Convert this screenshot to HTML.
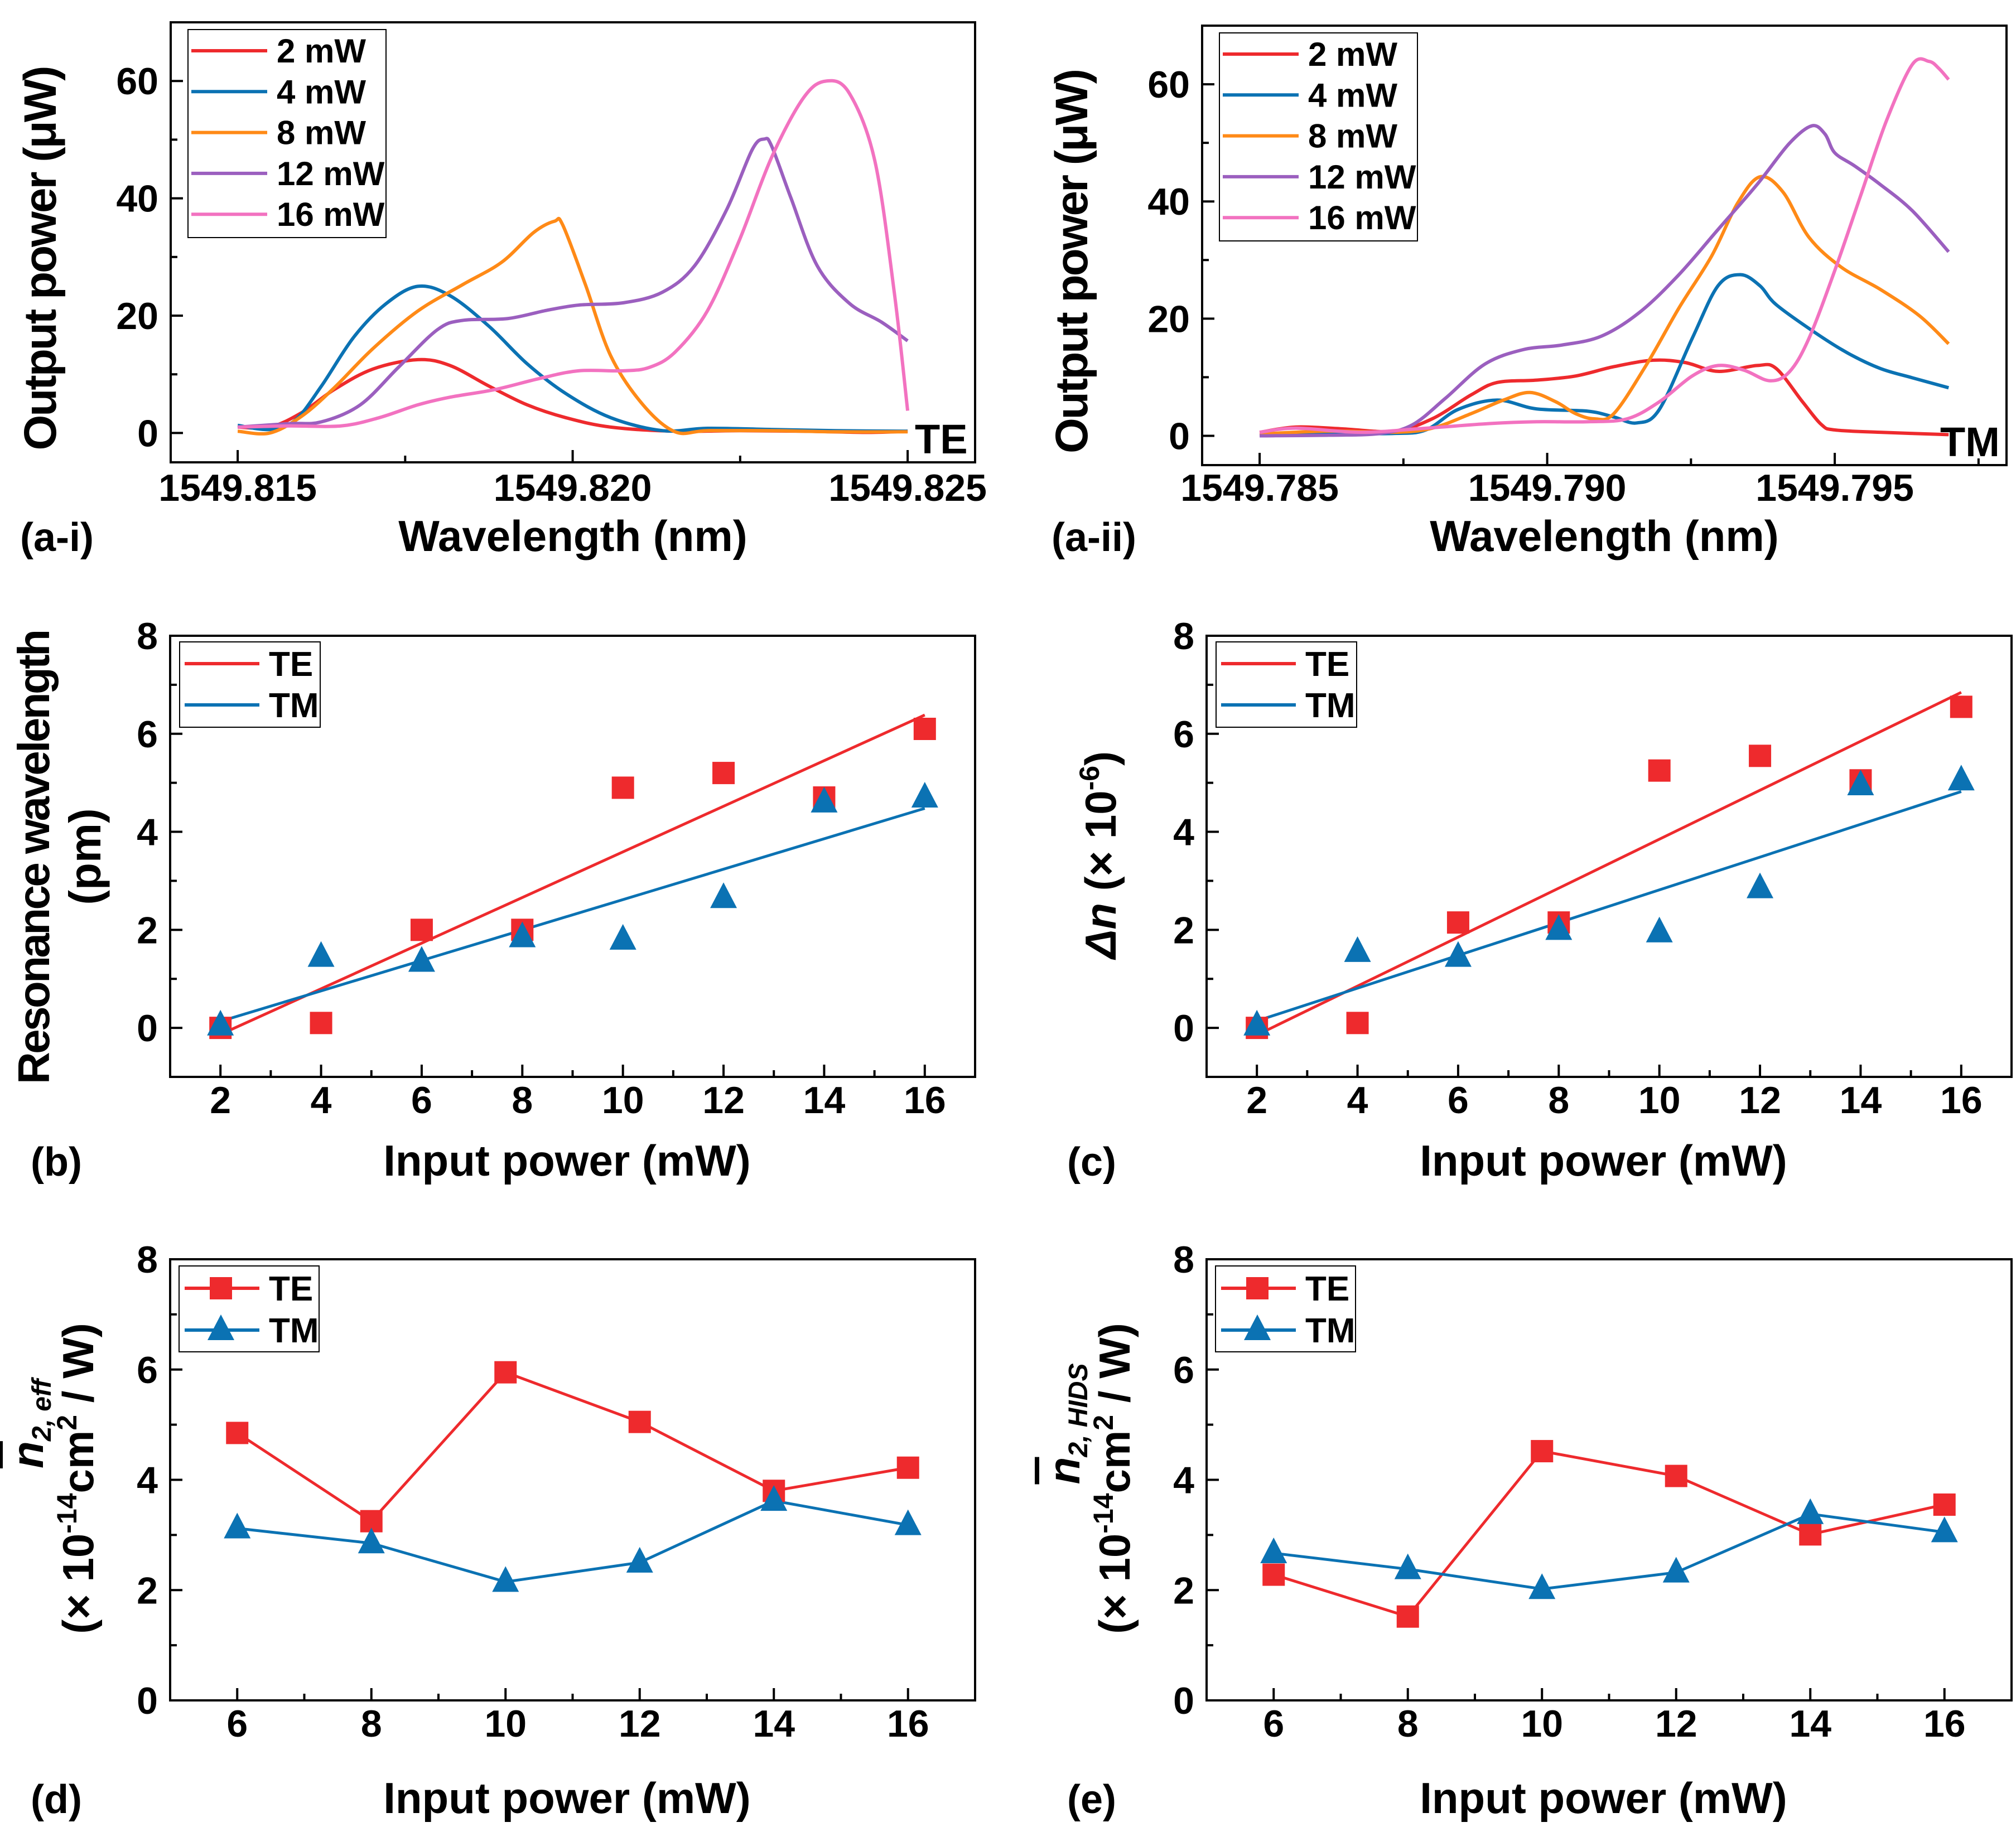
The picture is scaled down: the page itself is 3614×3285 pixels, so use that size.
<!DOCTYPE html>
<html><head><meta charset="utf-8"><style>
html,body{margin:0;padding:0;background:#fff;}
svg{display:block;}
text{font-family:"Liberation Sans Narrow","Liberation Sans",sans-serif;font-weight:bold;fill:#000;}
.wide{font-family:"Liberation Sans",sans-serif;}
</style></head><body>
<svg id="fig" xmlns="http://www.w3.org/2000/svg" width="3614" height="3285" viewBox="0 0 3614 3285"></svg>
<script>
// ---------- data: panel a-i (TE spectra), x = pm offset from 1549.815 nm ----------
const aiLabels = ["2 mW","4 mW","8 mW","12 mW","16 mW"];
const aiX2 = [0,0.48,0.96,1.44,2.02,2.69,3.17,3.75,4.32,4.9,5.57,6.53,7.49,8.45,9.41,10];
const aiY2 = [1,1,3.5,7.4,10.9,12.5,11.5,8,4.8,2.6,1,0.3,0.4,0.3,0.1,0.3];
const aiX4 = [0,0.48,0.86,1.25,1.73,2.21,2.69,3.17,3.75,4.32,4.9,5.57,6.34,7.01,7.97,8.93,10];
const aiY4 = [1.3,0.6,2.2,8,16.3,22,25,23.4,18.2,11.8,6.7,2.6,0.4,0.8,0.6,0.4,0.3];
const aiX8 = [0,0.48,0.96,1.44,2.02,2.69,3.36,3.94,4.42,4.73,4.85,5.19,5.57,6.05,6.53,7.01,7.97,8.93,10];
const aiY8 = [0.3,0,2.9,7.7,14.4,20.8,25.3,29.1,34.2,36.1,35.5,25.3,13.1,4.8,0.2,0.4,0.4,0.2,0.2];
const aiX12 = [0,0.77,1.25,1.83,2.4,2.98,3.36,4.03,4.61,5.09,5.76,6.34,6.82,7.3,7.68,7.86,7.97,8.26,8.65,9.13,9.61,10];
const aiY12 = [1,1.6,1.9,4.8,11.2,17.6,19.2,19.5,20.9,21.8,22.2,24,28.5,38.1,48.3,50.1,48.9,40,28.5,22.1,18.9,15.7];
const aiX16 = [0,0.77,1.54,2.11,2.69,3.17,3.84,4.51,5.09,5.76,6.15,6.53,7.01,7.49,7.97,8.45,8.79,9.13,9.51,9.8,10];
const aiY16 = [1,1.2,1.2,2.6,4.8,6.1,7.4,9.3,10.6,10.6,11.2,13.8,20.8,32.9,47,57.2,60,57.9,46.4,24,3.8];
// ---------- panel a-ii (TM spectra), x = pm offset from 1549.785 nm ----------
const aiiX2 = [0,0.63,1.42,2.33,3.0,3.68,4.13,4.81,5.49,6.16,6.84,7.4,7.97,8.65,8.98,9.44,9.77,10,10.79,11.98];
const aiiY2 = [0.6,1.5,1.2,0.8,2.9,7,9.1,9.5,10.2,11.8,12.9,12.5,11,12,11.5,5.8,1.9,1,0.6,0.2];
const aiiX4 = [0,1.2,2.33,2.89,3.45,4.13,4.81,5.71,6.16,6.56,6.95,7.52,7.97,8.36,8.7,8.98,9.66,10.23,10.79,11.35,11.98];
const aiiY4 = [0.3,0.4,0.4,1,4.5,6.1,4.6,4.2,3.2,2.2,4.5,16.6,25.6,27.5,25.6,22.4,17.6,14.1,11.5,9.9,8.2];
const aiiX8 = [0,1.2,2.33,3.0,3.68,4.24,4.7,5.15,5.49,5.82,6.16,6.73,7.29,7.86,8.31,8.7,9.1,9.55,10.11,10.79,11.47,11.98];
const aiiY8 = [0.3,0.8,0.6,1.3,3.8,6.1,7.4,5.8,3.8,2.9,3.8,12.2,21.8,30.7,39.7,44.2,41.6,33.9,28.8,25,20.5,15.7];
const aiiX12 = [0,1.2,2.1,2.66,3.23,3.91,4.58,5.26,5.94,6.61,7.29,7.97,8.65,9.21,9.6,9.83,10,10.34,10.79,11.35,11.98];
const aiiY12 = [0,0.1,0.4,1.9,6.4,12.2,14.7,15.5,17,21.1,27.5,35.2,42.9,49.9,52.9,51.5,48.3,46.1,42.9,38.4,31.4];
const aiiX16 = [0,0.63,1.76,2.89,4.02,4.81,5.71,6.39,6.95,7.52,7.97,8.42,8.87,9.21,9.55,10,10.45,10.9,11.35,11.64,11.81,11.98];
const aiiY16 = [0.6,1.3,0.6,1.3,2.1,2.4,2.4,2.9,5.8,10.2,12,11.2,9.4,10.9,16.6,28.2,41,53.8,63.4,63.9,62.7,60.8];
// ---------- panels b, c ----------
const powerBC = [2,4,6,8,10,12,14,16];
const bTE = [0,0.1,2,2,4.9,5.2,4.7,6.1];
const bTM = [0.05,1.45,1.35,1.85,1.8,2.65,4.6,4.7];
const cTE = [0,0.1,2.15,2.15,5.25,5.55,5.05,6.55];
const cTM = [0.05,1.55,1.45,2.0,1.95,2.85,4.95,5.05];
// ---------- panels d, e ----------
const powerDE = [6,8,10,12,14,16];
const dTE = [4.85,3.25,5.95,5.05,3.8,4.22];
const dTM = [3.12,2.85,2.15,2.5,3.62,3.18];
const eTE = [2.28,1.52,4.52,4.07,3.01,3.55];
const eTM = [2.67,2.38,2.02,2.32,3.38,3.05];
// ticks
const aiXTickVals = [0,5,10];
const aiXTickLabels = ["1549.815","1549.820","1549.825"];
const aiiXTickLabels = ["1549.785","1549.790","1549.795"];
const aYTicks = [0,20,40,60];
const bcXTicks = [2,4,6,8,10,12,14,16];
const deXTicks = [6,8,10,12,14,16];
const yTicks8 = [0,2,4,6,8];

const NS="http://www.w3.org/2000/svg";
const svg=document.getElementById('fig');
const RED="#ee2a2d",BLUE="#0b72b3",ORANGE="#ff8a17",PURPLE="#9b5fbf",PINK="#f272c0";

function mk(tag,attrs,parent){const e=document.createElementNS(NS,tag);for(const k in attrs)e.setAttribute(k,attrs[k]);(parent||svg).appendChild(e);return e;}
function txt(parent,x,y,s,size,anchor,name,sx,rot,cls){
  const g=mk('g',{transform:`translate(${x},${y}) rotate(${rot||0}) scale(${sx||1},1)`},parent);
  const t=mk('text',{x:0,y:0,'font-size':size,'text-anchor':anchor||'start'},g);
  if(cls)t.setAttribute('class',cls);
  t.textContent=s;
  
  
  return t;
}
function smooth(pts){
  let d=`M${pts[0][0]},${pts[0][1]}`;
  for(let i=0;i<pts.length-1;i++){
    const p0=pts[Math.max(0,i-1)],p1=pts[i],p2=pts[i+1],p3=pts[Math.min(pts.length-1,i+2)];
    const c1=[p1[0]+(p2[0]-p0[0])/6,p1[1]+(p2[1]-p0[1])/6];
    const c2=[p2[0]-(p3[0]-p1[0])/6,p2[1]-(p3[1]-p1[1])/6];
    d+=` C${c1[0]},${c1[1]} ${c2[0]},${c2[1]} ${p2[0]},${p2[1]}`;
  }
  return d;
}
function makeAxes(name,L,R,T,B,x0,x1,y0,y1){
  const g=mk('g',{});
  
  
  const sx=v=>L+(v-x0)/(x1-x0)*(R-L);
  const sy=v=>B-(v-y0)/(y1-y0)*(B-T);
  return {g,sx,sy,L,R,T,B};
}
function frame(ax){
  const r=mk('rect',{x:ax.L,y:ax.T,width:ax.R-ax.L,height:ax.B-ax.T,fill:'none',stroke:'#000','stroke-width':4},ax.g);
  
  
}
function xTicks(ax,vals,labels,minor,by){
  vals.forEach((v,i)=>{
    const x=ax.sx(v);
    const l=mk('line',{x1:x,x2:x,y1:ax.B,y2:ax.B-22,stroke:'#000','stroke-width':4},ax.g);
    
    
    txt(ax.g,x,by,labels[i],68,'middle','x-tick-label',1);
  });
  minor.forEach(v=>{const x=ax.sx(v);
    const l=mk('line',{x1:x,x2:x,y1:ax.B,y2:ax.B-12,stroke:'#000','stroke-width':4},ax.g);
    
    });
}
function yTicks(ax,vals,minor){
  vals.forEach(v=>{const y=ax.sy(v);
    const l=mk('line',{x1:ax.L,x2:ax.L+22,y1:y,y2:y,stroke:'#000','stroke-width':4},ax.g);
    
    
    txt(ax.g,ax.L-22,y+24,String(v),68,'end','y-tick-label',1);});
  minor.forEach(v=>{const y=ax.sy(v);
    const l=mk('line',{x1:ax.L,x2:ax.L+12,y1:y,y2:y,stroke:'#000','stroke-width':4},ax.g);
    
    });
}
function curve(ax,xs,ys,color,name){
  const p=mk('path',{d:smooth(xs.map((x,i)=>[ax.sx(x),ax.sy(ys[i])])),fill:'none',stroke:color,'stroke-width':6,'stroke-linejoin':'round'},ax.g);
  
  
}
function polyline(ax,xs,ys,color,name){
  const p=mk('polyline',{points:xs.map((x,i)=>ax.sx(x)+','+ax.sy(ys[i])).join(' '),fill:'none',stroke:color,'stroke-width':5},ax.g);
  
  
}
function square(g,x,y,name){
  const r=mk('rect',{x:x-20,y:y-20,width:40,height:40,fill:RED},g);
  
  
}
function tri(g,x,y,name){
  const p=mk('polygon',{points:`${x},${y-28} ${x-24},${y+18} ${x+24},${y+18}`,fill:BLUE},g);
  
  
}
function fitLine(ax,xs,ys,color,name){
  const n=xs.length,mx=xs.reduce((a,b)=>a+b)/n,my=ys.reduce((a,b)=>a+b)/n;
  let sxy=0,sxx=0;xs.forEach((x,i)=>{sxy+=(x-mx)*(ys[i]-my);sxx+=(x-mx)*(x-mx);});
  const k=sxy/sxx,b=my-k*mx,xa=xs[0],xb=xs[n-1];
  const l=mk('line',{x1:ax.sx(xa),y1:ax.sy(k*xa+b),x2:ax.sx(xb),y2:ax.sy(k*xb+b),stroke:color,'stroke-width':5},ax.g);
  
  
}
function legendBox(g,x,y,w,h){
  const r=mk('rect',{x,y,width:w,height:h,fill:'#fff',stroke:'#000','stroke-width':2},g);
  
  
}

// ===== Panel a-i / a-ii =====
function spectra(name,L,R,T,B,xs,ys,tickLabels,minor,tag,tagX,panelLbl,panelX){
  const ax=makeAxes(name,L,R,T,B,-1,(R-L)/(name==='panel-a-i'?120.1:103.1)-1,-5,70);
  const cols=[RED,BLUE,ORANGE,PURPLE,PINK];
  xs.forEach((x,i)=>curve(ax,x,ys[i],cols[i],'series-'+aiLabels[i].replace(' ','-')));
  frame(ax);
  xTicks(ax,aiXTickVals,tickLabels,minor,898);
  yTicks(ax,aYTicks,[10,30,50]);
  legendBox(ax.g,L+31,T+13,355,373);
  aiLabels.forEach((lb,i)=>{
    const y=T+51+i*73.3;
    const l=mk('line',{x1:L+37,x2:L+173,y1:y,y2:y,stroke:cols[i],'stroke-width':6},ax.g);
    
    
    txt(ax.g,L+190,y+21,lb,60,'start','legend-label',1);
  });
  txt(ax.g,tagX,B-16,tag,74,'start','polarization-tag',1);
  txt(ax.g,(L+R)/2,988,'Wavelength (nm)',78,'middle','x-axis-title',1);
  txt(ax.g,panelX,988,panelLbl,72,'start','panel-label',1);
  const t=txt(ax.g,L-206,(T+B)/2+28,'Output power (\u03bcW)',82,'middle','y-axis-title',1,-90,'wide');
  t.setAttribute('textLength',690);
}
spectra('panel-a-i',306,1748,40,829,[aiX2,aiX4,aiX8,aiX12,aiX16],[aiY2,aiY4,aiY8,aiY12,aiY16],aiXTickLabels,[2.5,7.5],'TE',1640,'(a-i)',36);
spectra('panel-a-ii',2155,3597,46,834,[aiiX2,aiiX4,aiiX8,aiiX12,aiiX16],[aiiY2,aiiY4,aiiY8,aiiY12,aiiY16],aiiXTickLabels,[2.5,7.5,12.5],'TM',3478,'(a-ii)',1885);

// ===== Panel b / c =====
function fitPanel(name,L,R,TE,TM,lbl,ytitle){
  const ax=makeAxes(name,L,R,1140,1931,1,17,-1,8);
  frame(ax);
  fitLine(ax,powerBC,TE,RED,'te-fit-line');
  fitLine(ax,powerBC,TM,BLUE,'tm-fit-line');
  powerBC.forEach((p,i)=>square(ax.g,ax.sx(p),ax.sy(TE[i]),'te-point'));
  powerBC.forEach((p,i)=>tri(ax.g,ax.sx(p),ax.sy(TM[i]),'tm-point'));
  xTicks(ax,bcXTicks,bcXTicks.map(String),[3,5,7,9,11,13,15],1996);
  yTicks(ax,yTicks8,[-1,1,3,5,7]);
  legendBox(ax.g,L+17,1151,252,153);
  [['TE',RED,1190],['TM',BLUE,1264]].forEach(e=>{
    const l=mk('line',{x1:L+26,x2:L+160,y1:e[2],y2:e[2],stroke:e[1],'stroke-width':6},ax.g);
    
    
    txt(ax.g,L+177,e[2]+22,e[0],62,'start','legend-label',1);
  });
  txt(ax.g,(L+R)/2-10,2108,'Input power (mW)',78,'middle','x-axis-title',1);
  txt(ax.g,L-250,2108,lbl,72,'start','panel-label',1);
  ytitle(ax);
}
fitPanel('panel-b',305,1748,bTE,bTM,'(b)',ax=>{
  const t=txt(ax.g,88,1536,'Resonance wavelength',80,'middle','y-axis-title',1,-90,'wide');
  t.setAttribute('textLength',816);
  txt(ax.g,180,1536,'(pm)',80,'middle','y-axis-unit',1,-90,'wide');
});
fitPanel('panel-c',2163,3606,cTE,cTM,'(c)',ax=>{
  const t=txt(ax.g,2000,1533,'',78,'middle','y-axis-title',1,-90,'wide');
  const a=mk('tspan',{'font-style':'italic'},t);a.textContent='\u0394n';
  const b=mk('tspan',{},t);b.textContent=' (\u00d7 10';
  const c=mk('tspan',{'font-size':50,dy:-30},t);c.textContent='-6';
  const d=mk('tspan',{dy:30},t);d.textContent=')';
});

// ===== Panel d / e =====
function n2Panel(name,L,R,TE,TM,lbl,sub){
  const ax=makeAxes(name,L,R,2258,3049,5,17,0,8);
  frame(ax);
  polyline(ax,powerDE,TE,RED,'te-line');
  polyline(ax,powerDE,TM,BLUE,'tm-line');
  powerDE.forEach((p,i)=>square(ax.g,ax.sx(p),ax.sy(TE[i]),'te-point'));
  powerDE.forEach((p,i)=>tri(ax.g,ax.sx(p),ax.sy(TM[i]),'tm-point'));
  xTicks(ax,deXTicks,deXTicks.map(String),[7,9,11,13,15],3114);
  yTicks(ax,yTicks8,[1,3,5,7]);
  legendBox(ax.g,L+16,2270,251,154);
  [['TE',RED,2310,0],['TM',BLUE,2385,1]].forEach(e=>{
    const l=mk('line',{x1:L+26,x2:L+160,y1:e[2],y2:e[2],stroke:e[1],'stroke-width':6},ax.g);
    
    
    if(e[3]===0)square(ax.g,L+91,e[2],'legend-marker');else tri(ax.g,L+91,e[2],'legend-marker');
    txt(ax.g,L+177,e[2]+22,e[0],62,'start','legend-label',1);
  });
  txt(ax.g,(L+R)/2-10,3251,'Input power (mW)',78,'middle','x-axis-title',1);
  txt(ax.g,L-250,3251,lbl,72,'start','panel-label',1);
  const cx=L-228, cy=2623;
  const t1=txt(ax.g,cx,cy-70,'',80,'middle','y-axis-symbol',1,-90,'wide');
  const n=mk('tspan',{'font-style':'italic','text-decoration':'overline'},t1);n.textContent='n';
  const s=mk('tspan',{'font-style':'italic','font-size':48,dy:14},t1);s.textContent=sub;
  const t2=txt(ax.g,L-138,cy+28,'',78,'middle','y-axis-title',1,-90,'wide');
  const a=mk('tspan',{},t2);a.textContent='(\u00d7 10';
  const b=mk('tspan',{'font-size':50,dy:-30},t2);b.textContent='-14';
  const c=mk('tspan',{dy:30},t2);c.textContent='cm';
  const d=mk('tspan',{'font-size':50,dy:-30},t2);d.textContent='2';
  const e=mk('tspan',{dy:30},t2);e.textContent=' / W)';
}
n2Panel('panel-d',305,1748,dTE,dTM,'(d)','2, eff');
n2Panel('panel-e',2163,3606,eTE,eTM,'(e)','2, HIDS');
</script>
</body></html>
